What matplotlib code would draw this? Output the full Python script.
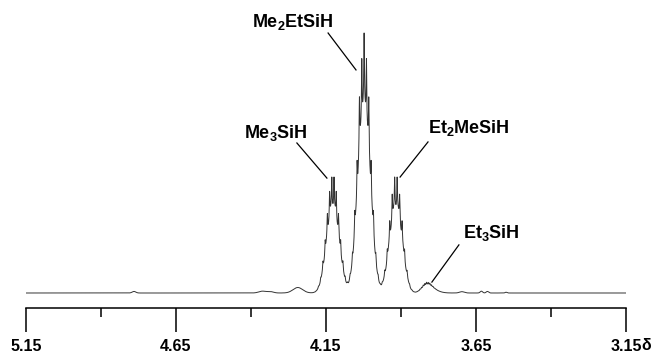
import numpy as np
import matplotlib
matplotlib.use("Agg")
import matplotlib.pyplot as plt
from matplotlib.transforms import offset_copy
from math import comb

plt.rcParams['font.family'] = ['Liberation Sans', 'DejaVu Sans']
plt.rcParams['mathtext.default'] = 'regular'

# main Si-H multiplets: centre (ppm), peak height, number of lines, coupling (ppm)
main_centers = [4.127, 4.023, 3.917, 3.815]
main_heights = [44.6, 100.0, 44.6, 3.4]
main_nlines = [10, 9, 8, 11]
main_J = [0.0128, 0.0135, 0.0143, 0.0095]

# small impurity bumps
minor_centers = [4.79, 4.362, 4.335, 4.244, 3.795, 3.697, 3.632, 3.612, 3.55]
minor_heights = [0.6, 0.7, 0.5, 2.1, 1.2, 0.5, 0.7, 0.6, 0.3]
minor_widths = [0.006, 0.012, 0.010, 0.016, 0.02, 0.008, 0.004, 0.004, 0.003]

# labels: text, label x, label y (baseline), leader start, leader end
labels = ['Me$_2$EtSiH', 'Me$_3$SiH', 'Et$_2$MeSiH', 'Et$_3$SiH']
label_x = [4.262, 4.317, 3.675, 3.598]
label_y = [102.3, 59.6, 61.5, 21.2]
leader_from = [(4.143, 100.0), (4.247, 57.7), (3.810, 58.1), (3.707, 18.5)]
leader_to = [(4.050, 85.8), (4.147, 44.2), (3.903, 44.6), (3.797, 4.2)]

major_ticks = [5.15, 4.65, 4.15, 3.65, 3.15]
minor_ticks = [4.90, 4.40, 3.90, 3.40]


def lorentz(x, x0, g):
    return g**2 / ((x - x0)**2 + g**2)


def gauss(x, x0, s):
    return np.exp(-0.5 * ((x - x0) / s)**2)


x = np.linspace(5.15, 3.15, 16000)
y = np.zeros_like(x)
for c, h, n, J in zip(main_centers, main_heights, main_nlines, main_J):
    # broad envelope of the multiplet
    broad = np.zeros_like(x)
    for k in range(n):
        broad += comb(n - 1, k) * gauss(x, c + (k - (n - 1) / 2) * J, 0.5 * J)
    broad /= broad.max()
    # finely split lines riding on top
    nf = 3 * (n - 1) + 1
    jf = J / np.sqrt(3)
    fine = np.zeros_like(x)
    for k in range(nf):
        fine += comb(nf - 1, k) * lorentz(x, c + (k - (nf - 1) / 2) * jf, 0.0012)
    fine /= fine.max()
    m = 0.72 * broad + 0.28 * fine
    y += h * m / m.max()
for c, h, w in zip(minor_centers, minor_heights, minor_widths):
    y += h * gauss(x, c, w)

fig = plt.figure(figsize=(6.54, 3.55), dpi=100)
ax = fig.add_axes([26 / 654, 47 / 355, 600 / 654, 308 / 355])
ax.plot(x, y, color='#333333', lw=0.7)
ax.set_xlim(5.15, 3.15)
ax.set_ylim(-5.77, 112.7)

for s in ['top', 'left', 'right']:
    ax.spines[s].set_visible(False)
ax.spines['bottom'].set_linewidth(1.1)
ax.set_yticks([])
ax.set_xticks(major_ticks)
ax.set_xticklabels(['%.2f' % t for t in major_ticks], fontsize=11.5, fontweight='bold')
ax.set_xticks(minor_ticks, minor=True)
ax.tick_params(axis='x', which='major', direction='out', length=17, width=1.1, pad=5.5)
ax.tick_params(axis='x', which='minor', direction='out', length=6.5, width=1.1)

# delta sign right after the last tick label
tr = offset_copy(ax.get_xaxis_transform(), fig=fig, x=15, y=0, units='dots')
ax.text(3.15, -0.136, '\u03b4', transform=tr, fontsize=11.5,
        fontweight='bold', ha='left', va='baseline', clip_on=False)

for txt, lx, ly, p0, p1 in zip(labels, label_x, label_y, leader_from, leader_to):
    ax.text(lx, ly, txt, fontsize=13, fontweight='bold', ha='center', va='baseline')
    ax.plot([p0[0], p1[0]], [p0[1], p1[1]], color='black', lw=0.9)

fig.savefig('out.png', dpi=100)
